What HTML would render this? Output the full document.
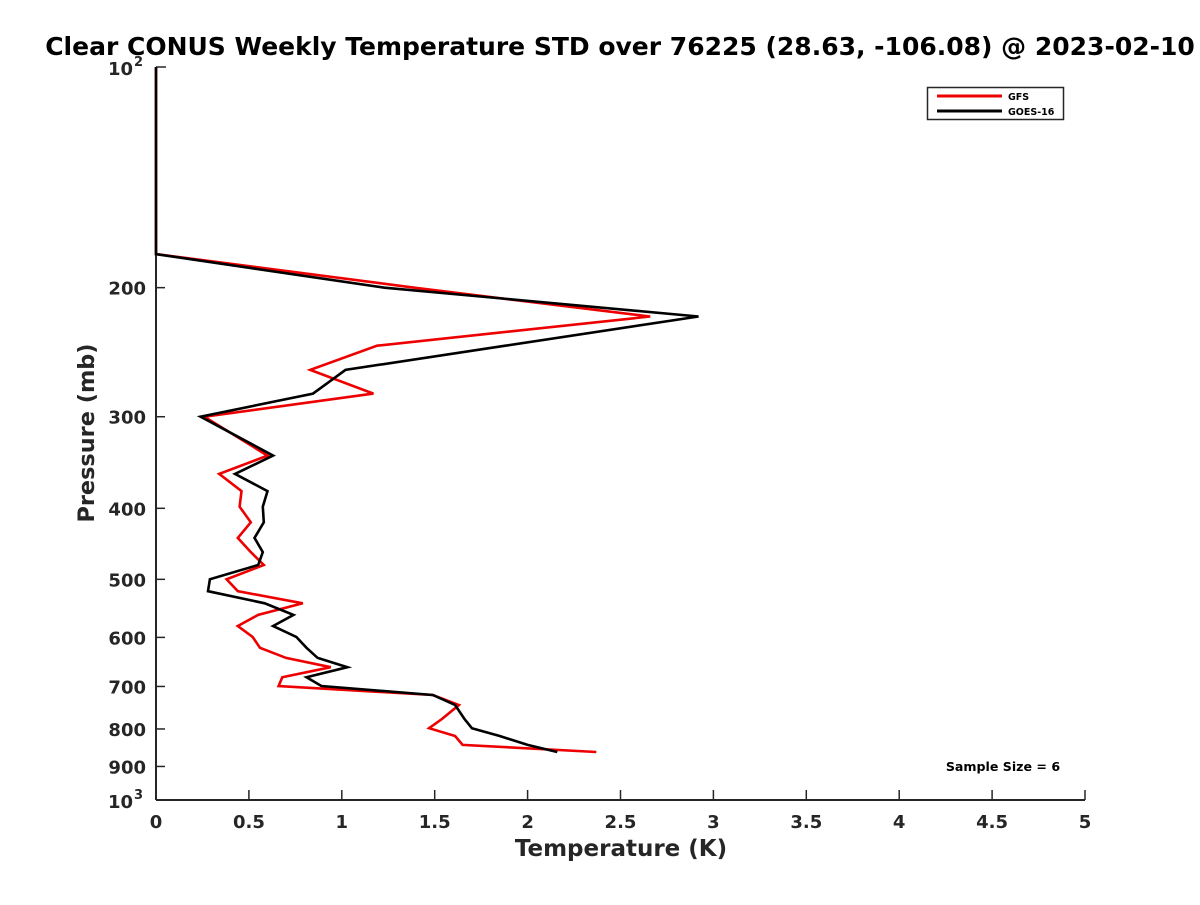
<!DOCTYPE html>
<html><head><meta charset="utf-8"><style>
body{margin:0;background:#fff;}
svg text{font-family:"DejaVu Sans","Liberation Sans",sans-serif;font-weight:bold;}
</style></head><body>
<svg id="chart" width="1200" height="900" viewBox="0 0 1200 900" xmlns="http://www.w3.org/2000/svg">
<rect width="1200" height="900" fill="#fff"/>
<text x="620" y="55" font-size="25" text-anchor="middle" fill="#000">Clear CONUS Weekly Temperature STD over 76225 (28.63, -106.08) @ 2023-02-10</text>
<g id="axes"></g>
<g id="series"></g>
<text x="621" y="856" font-size="23" text-anchor="middle" fill="#262626">Temperature (K)</text>
<text transform="translate(94,433) rotate(-90)" font-size="22.4" text-anchor="middle" fill="#262626">Pressure (mb)</text>
<g>
<rect x="927.5" y="87.5" width="136" height="32" fill="#fff" stroke="#262626" stroke-width="1.5"/>
<line x1="937" y1="96" x2="1002" y2="96" stroke="#e00" stroke-width="3"/>
<text x="1008" y="100" font-size="9.5" fill="#000">GFS</text>
<line x1="937" y1="111" x2="1002" y2="111" stroke="#000" stroke-width="3"/>
<text x="1008" y="115" font-size="9.5" fill="#000">GOES-16</text>
</g>
<text x="1003" y="771" font-size="12.6" text-anchor="middle" fill="#000">Sample Size = 6</text>
</svg>
<script>
const pressures = [100,180,200,219,240,259,279,300,339,359,379,398,418,439,459,478,500,519,539,559,579,599,620,640,659,680,699,719,742,775,798,818,841,860];
const gfsValues = [0,0,1.39,2.66,1.19,0.83,1.17,0.26,0.60,0.34,0.46,0.45,0.51,0.44,0.51,0.58,0.38,0.44,0.79,0.55,0.44,0.52,0.56,0.70,0.94,0.68,0.66,1.49,1.63,1.54,1.47,1.61,1.65,2.37];
const goesValues = [0,0,1.23,2.92,1.88,1.02,0.845,0.24,0.63,0.425,0.60,0.575,0.58,0.53,0.575,0.55,0.29,0.28,0.585,0.74,0.63,0.755,0.81,0.87,1.03,0.81,0.89,1.49,1.61,1.66,1.70,1.85,2.0,2.16];
const xTicks = [0,0.5,1,1.5,2,2.5,3,3.5,4,4.5,5];
const xTickLabels = ["0","0.5","1","1.5","2","2.5","3","3.5","4","4.5","5"];
const yTicks = [200,300,400,500,600,700,800,900];
const yTickLabels = ["200","300","400","500","600","700","800","900"];

const NS="http://www.w3.org/2000/svg";
const L=156,R=1085,T=67,B=800;
function xs(v){return L+(v-0)/(5-0)*(R-L);}
function ys(p){return T+(Math.log10(p)-2)*(B-T);}
function mk(tag,attrs,parent){const e=document.createElementNS(NS,tag);for(const k in attrs)e.setAttribute(k,attrs[k]);parent.appendChild(e);return e;}
const ax=document.getElementById('axes');
const col="#262626";
let e=mk('line',{x1:L,y1:T,x2:L,y2:B,stroke:col,'stroke-width':2},ax);


e=mk('line',{x1:L,y1:B,x2:R,y2:B,stroke:col,'stroke-width':2},ax);


xTicks.forEach((v,i)=>{
  const x=xs(v);
  let t=mk('line',{x1:x,y1:B,x2:x,y2:B-10,stroke:col,'stroke-width':1.5},ax);
  
  
  let tx=mk('text',{x:x,y:828,'font-size':18,'text-anchor':'middle',fill:col},ax);
  tx.textContent=xTickLabels[i];
  
  
});
[100,1000].forEach(p=>{
  const y=ys(p);
  let t=mk('line',{x1:L,y1:y,x2:L+10,y2:y,stroke:col,'stroke-width':1.5},ax);
  
  
});
yTicks.forEach((p,i)=>{
  const y=ys(p);
  let t=mk('line',{x1:L,y1:y,x2:L+9,y2:y,stroke:col,'stroke-width':1.5},ax);
  
  
  let tx=mk('text',{x:146,y:y+7,'font-size':18,'text-anchor':'end',fill:col},ax);
  tx.textContent=yTickLabels[i];
  
  
});
[[100,"2",75],[1000,"3",808]].forEach(d=>{
  let tx=mk('text',{x:133,y:d[2],'font-size':18,'text-anchor':'end',fill:col},ax);
  tx.textContent="10";
  
  
  let sp=mk('text',{x:134,y:d[2]-9,'font-size':13,fill:col},ax);
  sp.textContent=d[1];
  
  
});
const sg=document.getElementById('series');
function line(vals,color,name){
  const pts=vals.map((v,i)=>xs(v).toFixed(1)+','+ys(pressures[i]).toFixed(1)).join(' ');
  const pl=mk('polyline',{points:pts,fill:'none',stroke:color,'stroke-width':2.6,'stroke-linejoin':'miter'},sg);
  
  
}
line(gfsValues,'#e00','gfs-line');
line(goesValues,'#000','goes16-line');
</script>
</body></html>
